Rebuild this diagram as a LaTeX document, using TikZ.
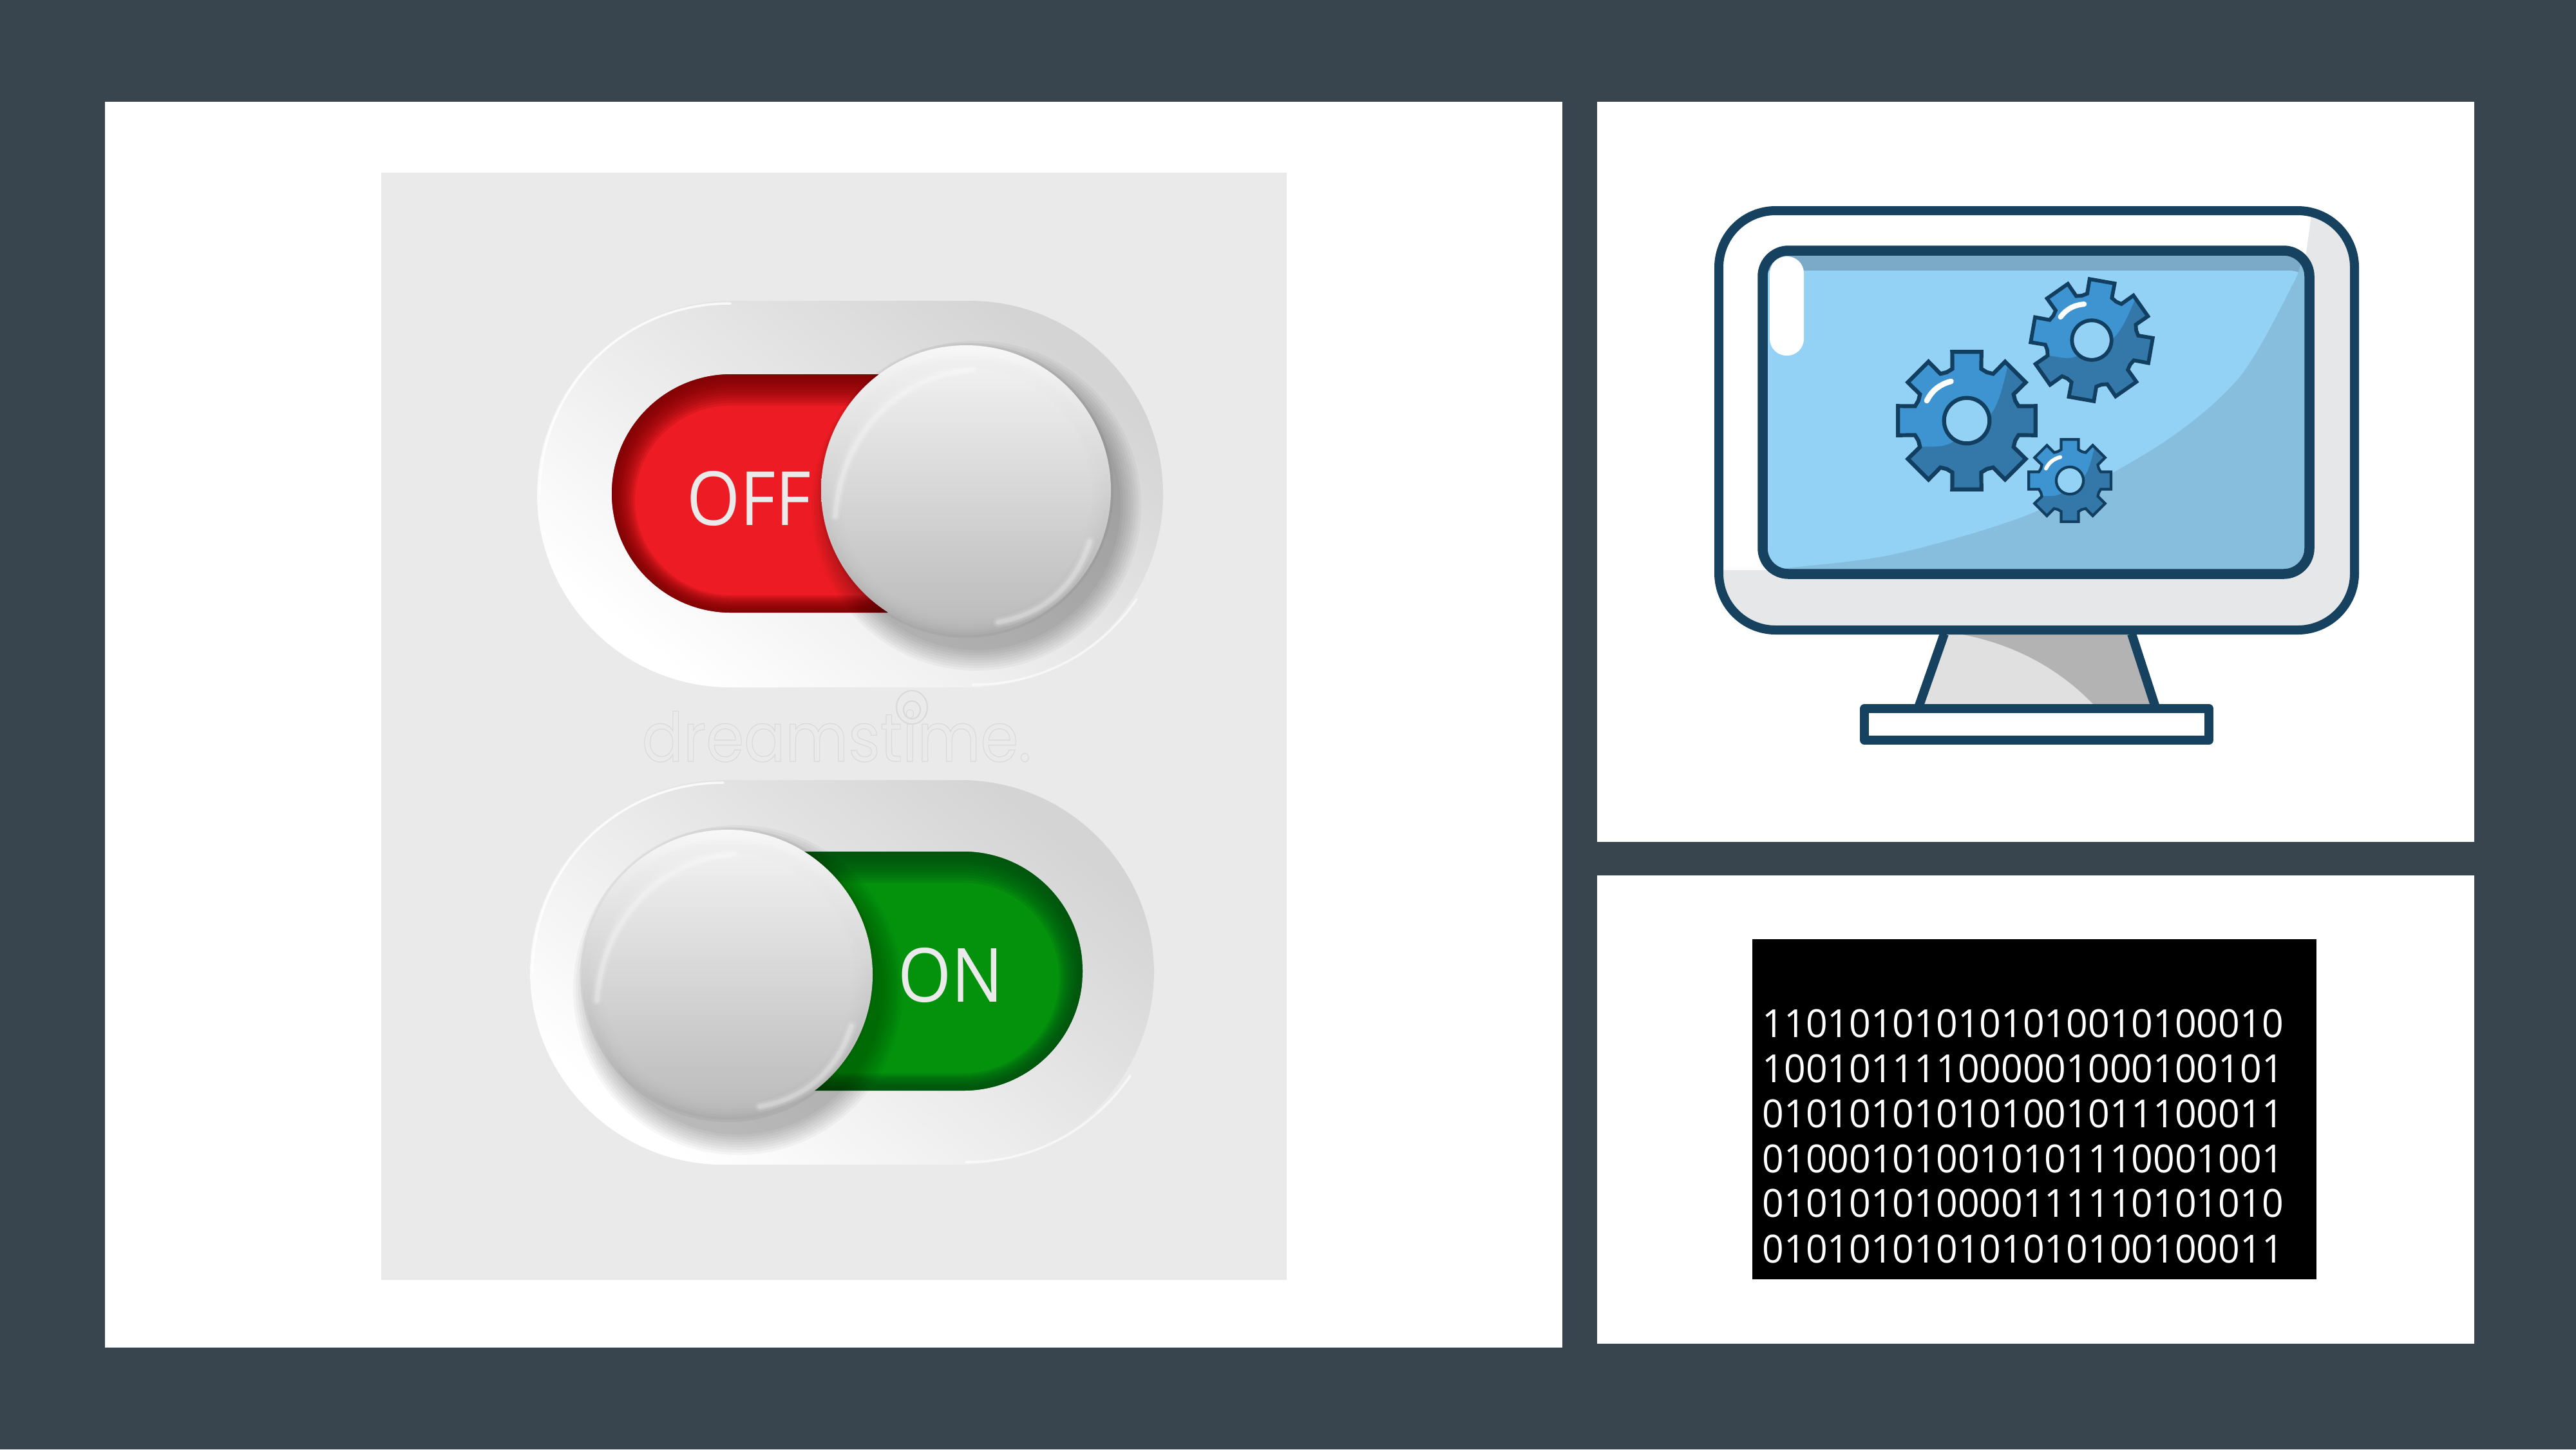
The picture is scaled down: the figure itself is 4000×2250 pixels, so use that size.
\documentclass[tikz,border=0pt]{standalone}
\usepackage{fontspec}
\usepackage{graphicx}
\usetikzlibrary{calc}
\newfontfamily\lblfont{Open Sans}
\newfontfamily\wmfont{Poppins}
\definecolor{bgdark}{HTML}{38454F}
\definecolor{panelgrey}{HTML}{EAEAEB}
\definecolor{navy}{HTML}{17425F}
\definecolor{scrlight}{HTML}{93D2F5}
\definecolor{scrband}{HTML}{7AAAC7}
\definecolor{scrshade}{HTML}{87BDDD}
\definecolor{bezel}{HTML}{E6E7E8}
\definecolor{standlight}{HTML}{E0E0E0}
\definecolor{standdark}{HTML}{B3B3B3}
\definecolor{gearlight}{HTML}{3D94D1}
\definecolor{geardark}{HTML}{3378A9}
\definecolor{gearline}{HTML}{123F5F}
\definecolor{redbase}{HTML}{ED1C24}
\definecolor{reddark}{HTML}{6E0000}
\definecolor{greenbase}{HTML}{04920D}
\definecolor{greendark}{HTML}{004A10}
\definecolor{wmgrey}{HTML}{D9D9DA}
\tikzset{
  px/.style={x=0.01cm,y=-0.01cm},
  bodyline/.style={draw=navy,line width=0.14cm,line join=round},
  screenline/.style={draw=navy,line width=0.155cm,line join=round},
  binline/.style={anchor=base west,inner sep=0pt,text=white,font=\lblfont\fontsize{17.1pt}{17.1pt}\selectfont},
  swlabel/.style={anchor=base,inner sep=0pt,text=panelgrey,font=\lblfont\fontsize{33pt}{33pt}\selectfont},
  rim/.style={white,line width=0.035cm,line cap=round,opacity=.8},
}
% outer bezel of a switch: x1 y1 x2 y2
\newcommand{\swbody}[4]{%
  \shade[rounded corners=3cm,top color=black!17,middle color=black!7,bottom color=white,shading angle=-38]
    (#1,#2) rectangle (#3,#4);
}
% recessed coloured track: x1 y1 x2 y2 base dark
\newcommand{\swtrack}[6]{%
  \begin{scope}
    \clip[rounded corners=1.85cm] (#1,#2) rectangle (#3,#4);
    \fill[#5] (#1,#2) rectangle (#3,#4);
    \foreach \d in {3,6,...,36}{
      \pgfmathsetmacro{\rr}{max(0.02,(185-\d)*0.01)}
      \fill[#6,opacity=.13,even odd rule]
        (#1-10,#2-10) rectangle (#3+10,#4+10)
        [rounded corners=\rr cm] ({#1+\d},{#2+\d*1.35}) rectangle ({#3-\d},{#4-\d*.75});
    }
  \end{scope}
}
% soft shadow and knob: cx cy sx sy
\newcommand{\swknob}[4]{%
  \foreach \r in {224,228,...,256}{
    \fill[black,opacity=.03] ({#1+#3},{#2+#4}) circle (\r);
  }
  \fill[black,opacity=.04] (#1,#2) circle (229);
  \shade[top color=white!97!black,bottom color=black!33] (#1,#2) circle (225);
  \foreach \r/\o in {216/.25,212/.3,208/.35,204/.45,200/.6,196/1}{
    \shade[top color=black!6,bottom color=black!26,opacity=\o] (#1,{#2+5}) circle (\r);
  }
  \foreach \w/\o in {0.16/.1,0.1/.14,0.06/.18}{
    \draw[white,line width=\w cm,opacity=\o,line cap=round]
      ({#1-203},{#2+40}) .. controls ({#1-195},{#2-80}) and ({#1-110},{#2-178}) .. ({#1+10},{#2-187});
    \draw[white,line width=\w cm,opacity=\o,line cap=round]
      ({#1+192},{#2+80}) .. controls ({#1+170},{#2+150}) and ({#1+120},{#2+192}) .. ({#1+50},{#2+205});
  }
}
% gear: cx cy R rot linewidth(cm)
\newcommand{\gearicon}[5]{%
  \begin{scope}[shift={(#1,#2)},rotate=#4,x=#3*0.01cm,y=-#3*0.01cm]
    \begin{scope}
      \clip (-15.6:.78) \foreach \a in {0,45,...,315}{
        -- ({\a-15.6}:.78) -- ({\a-12}:1.02) -- ({\a+12}:1.02) -- ({\a+15.6}:.78) -- ({\a+22.5}:.76)
      } -- cycle;
      \fill[gearlight] (-1.4,-1.4) rectangle (1.4,1.4);
      \fill[geardark] plot[smooth] coordinates {(-1.3,.42) (-.65,.38) (-.24,.33) (.36,-.11) (.58,-.73) (.66,-1.3)}
        -- (1.4,-1.4) -- (1.4,1.4) -- (-1.3,1.4) -- cycle;
    \end{scope}
    \draw[gearline,line width=#5cm,line join=miter] (-15.6:.78) \foreach \a in {0,45,...,315}{
        -- ({\a-15.6}:.78) -- ({\a-12}:1.02) -- ({\a+12}:1.02) -- ({\a+15.6}:.78) -- ({\a+22.5}:.76)
      } -- cycle;
    \draw[gearline,fill=scrlight,line width=#5cm] (0,0) circle (.33);
    \draw[white,line width=1.4*#5cm,line cap=round]
      (-.58,-.29) .. controls (-.5,-.45) and (-.38,-.53) .. (-.23,-.57);
  \end{scope}
}
\begin{document}
\begin{tikzpicture}[px]
\useasboundingbox (0,0) rectangle (4000,2250);
\fill[bgdark] (0,0) rectangle (4000,2250);
% panels
\fill[white] (163,158) rectangle (2426,2092);
\fill[white] (2480,158) rectangle (3842,1307);
\fill[white] (2480,1359) rectangle (3842,2086);
\fill[panelgrey] (592,268) rectangle (1998,1987);

% ---------- OFF switch
\swbody{834}{467}{1806}{1067}
\draw[rim] (838,767) .. controls (838,600) and (970,471) .. (1134,471);
\draw[rim,opacity=.6] (1510,1063) .. controls (1620,1063) and (1710,1010) .. (1765,930);
\swtrack{950}{581}{1560}{951}{redbase}{reddark}
\node[swlabel] (offlabel) at (1163,815) {\scalebox{.92}[1]{OFF}};
\begin{scope}
  \clip[rounded corners=3cm] (834,467) rectangle (1806,1067);
  \swknob{1500}{761}{16}{24}
\end{scope}

% watermark
\node[anchor=base west,inner sep=0pt,text=wmgrey,font=\wmfont\fontsize{30pt}{30pt}\selectfont] (wm) at (996,1182)
  {\scalebox{.9}[1]{\special{pdf:code 1 Tr 0.35 w}dreamstime.\special{pdf:code 0 Tr}}};
\draw[wmgrey,line width=0.02cm] (1416,1098) ellipse (24 and 26);
\draw[wmgrey,line width=0.02cm] (1416,1102) ellipse (13 and 14);

% ---------- ON switch
\swbody{823}{1211}{1792}{1808}
\draw[rim] (827,1510) .. controls (827,1345) and (960,1215) .. (1123,1215);
\draw[rim,opacity=.6] (1500,1804) .. controls (1610,1804) and (1700,1750) .. (1755,1670);
\swtrack{1000}{1322}{1681}{1693}{greenbase}{greendark}
\node[swlabel] (onlabel) at (1476,1555) {\scalebox{.92}[1]{ON}};
\begin{scope}
  \clip[rounded corners=3cm] (823,1211) rectangle (1792,1808);
  \swknob{1130}{1513}{16}{24}
\end{scope}

% ---------- Monitor
\fill[standlight] (3019,978) -- (3310,978) -- (3347,1100) -- (2979,1100) -- cycle;
\fill[standdark] (3042,984) .. controls (3130,1000) and (3200,1040) .. (3253,1096) -- (3345,1096) -- (3310,984) -- cycle;
\draw[bodyline] (3019,984) -- (2979,1098);
\draw[bodyline] (3310,984) -- (3347,1098);
\draw[bodyline,fill=white] (2895,1100) rectangle (3430,1149);
\begin{scope}
  \clip[rounded corners=0.88cm] (2669,327) rectangle (3656,978);
  \fill[white] (2669,327) rectangle (3656,978);
  \fill[bezel] (2669,885) rectangle (3656,978);
  \fill[bezel] (3590,327) -- (3656,327) -- (3656,978) -- (3580,978) -- (3580,400) -- cycle;
\end{scope}
\draw[bodyline,rounded corners=0.88cm] (2669,327) rectangle (3656,978);
\begin{scope}
  \clip[rounded corners=0.4cm] (2737,389) rectangle (3586,891);
  \fill[scrband] (2737,389) rectangle (3586,891);
  \fill[scrlight] (2737,420) -- (3555,420) .. controls (3572,420) and (3586,432) .. (3586,450) -- (3586,891) -- (2737,891) -- cycle;
  \fill[scrshade] plot[smooth] coordinates {(2720,886) (2782,881) (2943,860) (3157,796) (3356,689) (3478,585) (3562,438) (3572,405)}
     -- (3600,405) -- (3600,900) -- (2720,900) -- cycle;
\end{scope}
\fill[white,rounded corners=0.26cm] (2748,398) rectangle (2801,552);
\draw[screenline,rounded corners=0.4cm] (2737,389) rectangle (3586,891);
% gears
\gearicon{3248}{528}{93}{-10}{0.058}
\gearicon{3054}{653}{107}{0}{0.062}
\gearicon{3214}{746}{64}{0}{0.042}

% ---------- Binary block
\fill[black] (2721,1458) rectangle (3597,1986);
\node[binline] (b1) at (2736,1610) {\scalebox{.98}[1]{110101010101010010100010}};
\node[binline] (b2) at (2736,1680) {\scalebox{.98}[1]{100101111000001000100101}};
\node[binline] (b3) at (2736,1750) {\scalebox{.98}[1]{010101010101001011100011}};
\node[binline] (b4) at (2736,1820) {\scalebox{.98}[1]{010001010010101110001001}};
\node[binline] (b5) at (2736,1889) {\scalebox{.98}[1]{010101010000111110101010}};
\node[binline] (b6) at (2736,1960) {\scalebox{.98}[1]{010101010101010100100011}};
\end{tikzpicture}
\end{document}
